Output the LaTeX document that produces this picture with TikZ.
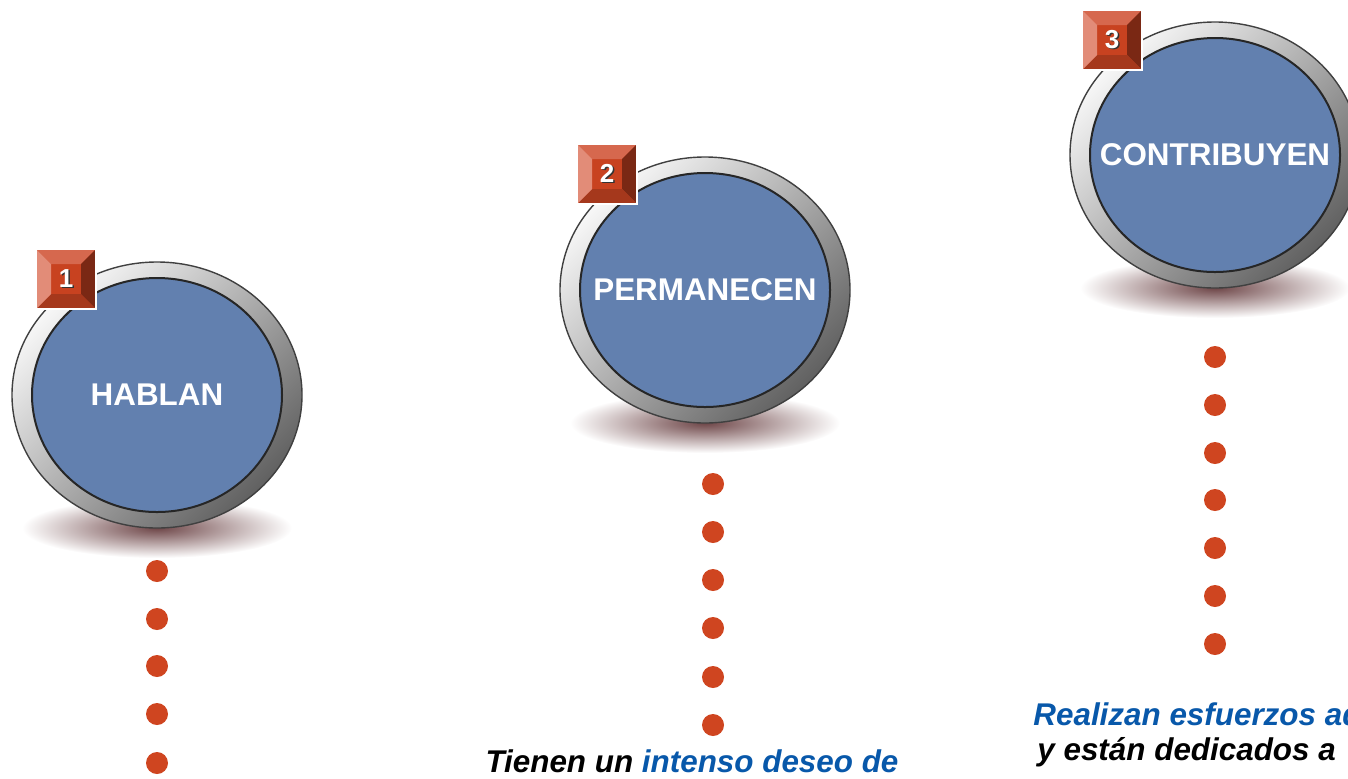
\documentclass[tikz,border=0pt]{standalone}
\usepackage{fontspec}
\setmainfont{Liberation Sans}
\usetikzlibrary{shapes.geometric}
\definecolor{discblue}{RGB}{98,128,175}
\definecolor{dotred}{RGB}{207,69,32}
\definecolor{textblue}{RGB}{8,88,170}
\definecolor{floorc}{RGB}{110,70,72}
\definecolor{badgemid}{RGB}{200,66,32}
\definecolor{badgetop}{RGB}{214,104,78}
\definecolor{badgeleft}{RGB}{226,140,120}
\definecolor{badgeright}{RGB}{122,40,20}
\definecolor{badgebot}{RGB}{165,56,28}
\newcommand{\badgenum}[1]{\makebox[0pt][l]{\kern0.8pt\raisebox{-0.8pt}{\color{black!80}#1}}{\color{white}#1}}
\newcommand{\disctext}[1]{\makebox[0pt]{\raisebox{-1pt}{#1}}}
\tikzset{
  disc/.style={ellipse, minimum width=125pt, minimum height=117pt, inner sep=0pt,
    fill=discblue, draw=black!85, line width=1pt, text=white,
    font=\bfseries\fontsize{15.7}{19}\selectfont},
  ring/.style={top color=white!97!black, bottom color=black!62, shading angle=45,
    draw=black!75, line width=0.7pt},
  floorshade/.style={inner color=floorc, outer color=white},
  dot/.style={circle, fill=dotred, minimum size=11pt, inner sep=0pt},
  badge/.style={rectangle, minimum size=30pt, inner sep=0pt, fill=badgemid,
    draw=white, line width=1.2pt, font=\bfseries\fontsize{13}{15}\selectfont,
    path picture={
      \path (path picture bounding box.north west) coordinate (p1)
            (path picture bounding box.north east) coordinate (p2)
            (path picture bounding box.south east) coordinate (p3)
            (path picture bounding box.south west) coordinate (p4)
            ([xshift=7.5pt,yshift=-7.5pt]p1) coordinate (q1)
            ([xshift=-7.5pt,yshift=-7.5pt]p2) coordinate (q2)
            ([xshift=-7.5pt,yshift=7.5pt]p3) coordinate (q3)
            ([xshift=7.5pt,yshift=7.5pt]p4) coordinate (q4);
      \fill[badgetop] (p1) -- (p2) -- (q2) -- (q1) -- cycle;
      \fill[badgeright] (p2) -- (p3) -- (q3) -- (q2) -- cycle;
      \fill[badgebot] (p3) -- (p4) -- (q4) -- (q3) -- cycle;
      \fill[badgeleft] (p4) -- (p1) -- (q1) -- (q4) -- cycle;
    }},
  caption/.style={font=\bfseries\itshape\fontsize{15.7}{19}\selectfont, inner sep=0pt},
}
\begin{document}
\begin{tikzpicture}[x=0.5pt,y=-0.5pt]
\useasboundingbox (0,0) rectangle (1348,778);
\clip (0,0) rectangle (1348,778);
% Step 1
\shade[floorshade] (157,528) ellipse [x radius=135, y radius=30];
\shade[ring] (157,395) ellipse [x radius=145, y radius=133];
\node[disc] (hablan) at (157,395) {\disctext{HABLAN}};
\node[badge] (b1) at (66,279) {\badgenum{1}};
% Dots for step 1
\node[dot] (d11) at (157,571) {};
\node[dot] (d12) at (157,619) {};
\node[dot] (d13) at (157,666) {};
\node[dot] (d14) at (157,714) {};
\node[dot] (d15) at (157,763) {};
% Step 2
\shade[floorshade] (705,423) ellipse [x radius=135, y radius=30];
\shade[ring] (705,290) ellipse [x radius=145, y radius=133];
\node[disc] (permanecen) at (705,290) {\disctext{PERMANECEN}};
\node[badge] (b2) at (607,174) {\badgenum{2}};
% Dots for step 2
\node[dot] (d21) at (713,484) {};
\node[dot] (d22) at (713,532) {};
\node[dot] (d23) at (713,580) {};
\node[dot] (d24) at (713,628) {};
\node[dot] (d25) at (713,677) {};
\node[dot] (d26) at (713,725) {};
\node[caption, anchor=base] (t2) at (692,772) {Tienen un \textcolor{textblue}{intenso deseo de}};
% Step 3
\shade[floorshade] (1215,288) ellipse [x radius=135, y radius=30];
\shade[ring] (1215,155) ellipse [x radius=145, y radius=133];
\node[disc] (contribuyen) at (1215,155) {\disctext{CONTRIBUYEN}};
\node[badge] (b3) at (1112,40) {\badgenum{3}};
% Dots for step 3
\node[dot] (d31) at (1215,357) {};
\node[dot] (d32) at (1215,405) {};
\node[dot] (d33) at (1215,453) {};
\node[dot] (d34) at (1215,500) {};
\node[dot] (d35) at (1215,548) {};
\node[dot] (d36) at (1215,596) {};
\node[dot] (d37) at (1215,644) {};
\node[caption, anchor=base west, text=textblue] (t3a) at (1033,725) {Realizan esfuerzos ad};
\node[caption, anchor=base west] (t3b) at (1037,760) {y están dedicados a};
\end{tikzpicture}
\end{document}
